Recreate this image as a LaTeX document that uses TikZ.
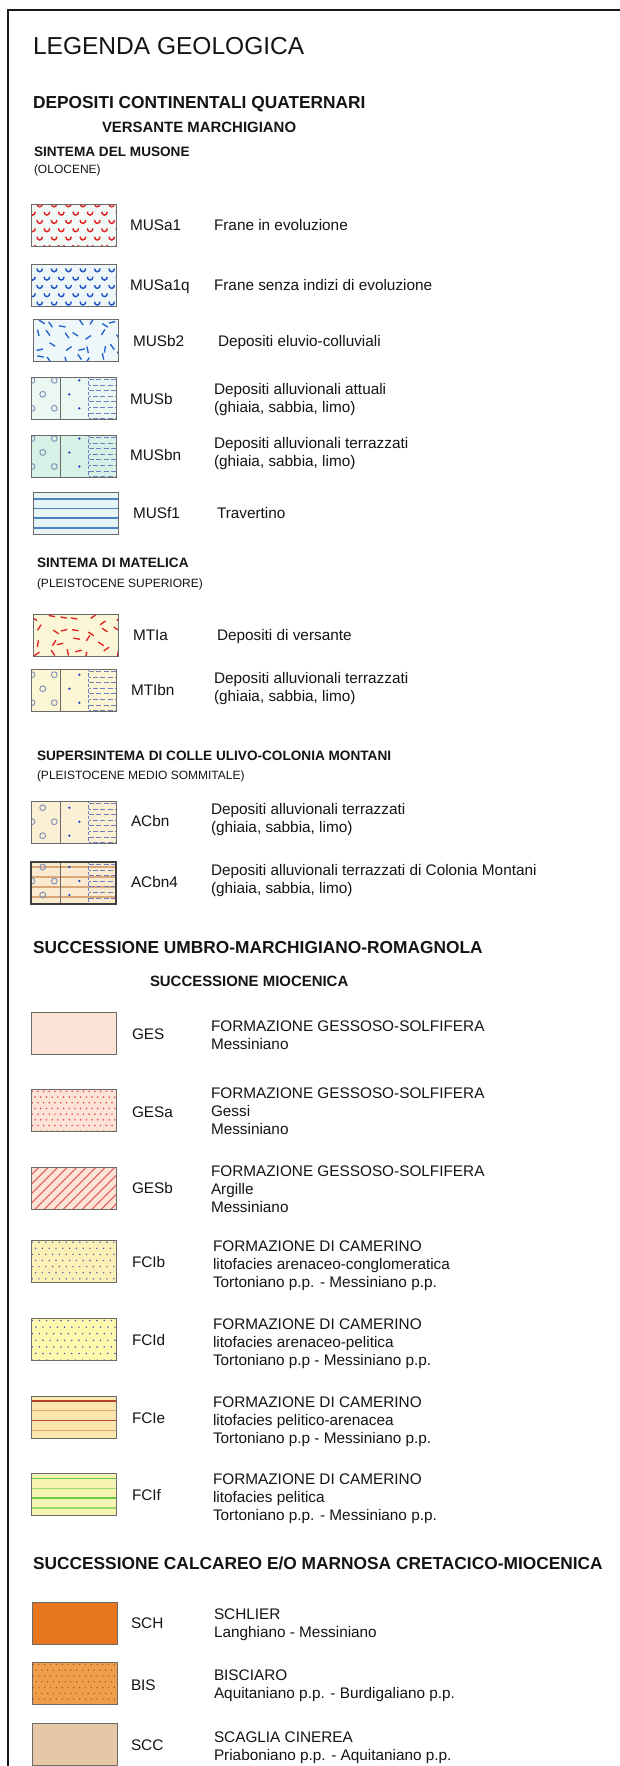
\documentclass[tikz,border=0pt]{standalone}
\usepackage{fontspec}
\setmainfont{Liberation Sans}
\definecolor{fMUSa}{HTML}{F3F9F6}
\definecolor{fMUSaq}{HTML}{EEF6F7}
\definecolor{fMUSbt}{HTML}{EEF7FA}
\definecolor{fMUSb}{HTML}{EBF7F1}
\definecolor{fMUSbn}{HTML}{D7F1E6}
\definecolor{fMUSf}{HTML}{E7F4F6}
\definecolor{fMTIa}{HTML}{FBF6D8}
\definecolor{fMTIbn}{HTML}{FCF6D4}
\definecolor{fACbn}{HTML}{FBF0D4}
\definecolor{fACbnq}{HTML}{F9EAD0}
\definecolor{fGES}{HTML}{FCE3D5}
\definecolor{fFCIb}{HTML}{FBF1B6}
\definecolor{fFCId}{HTML}{FFF9AE}
\definecolor{fFCIe}{HTML}{FBE7AE}
\definecolor{fFCIf}{HTML}{F7F3B2}
\definecolor{fSCH}{HTML}{E8761E}
\definecolor{fBIS}{HTML}{F09E4A}
\definecolor{fSCC}{HTML}{E6C7A6}
\definecolor{cupred}{HTML}{E0201C}
\definecolor{cupblue}{HTML}{1E50C8}
\definecolor{dashblue}{HTML}{2060C8}
\definecolor{dashred}{HTML}{E02020}
\definecolor{circc}{HTML}{7F90B8}
\definecolor{dotc}{HTML}{1A3CC8}
\definecolor{hdc}{HTML}{6F7FBF}
\definecolor{gesdot}{HTML}{E0404A}
\definecolor{gesline}{HTML}{E05A5A}
\definecolor{fcbdot}{HTML}{5A5AA8}
\definecolor{fcddot}{HTML}{4A54B4}
\definecolor{fceA}{HTML}{B8402C}
\definecolor{fceB}{HTML}{E0A868}
\definecolor{fcfA}{HTML}{66CC44}
\definecolor{fcfB}{HTML}{9ADB70}
\definecolor{musfl}{HTML}{4A82C4}
\definecolor{acql}{HTML}{D9A77A}
\definecolor{bisdot}{HTML}{A85A1C}
\definecolor{swbord}{HTML}{6A6A6A}
\definecolor{txtc}{HTML}{141414}

\tikzset{
  swatch/.style={minimum width=63.75pt, minimum height=31.5pt, inner sep=0pt, outer sep=0pt},
  swb/.style={draw=swbord, line width=0.7pt},
  basetxt/.style={anchor=west, inner sep=0pt, outer sep=0pt, align=left, text=txtc},
  dsc/.style={basetxt, font=\fontsize{11.5}{13.5}\selectfont},
  lab/.style={basetxt, font=\fontsize{11.5}{13.5}\selectfont},
  ttl/.style={basetxt, font=\fontsize{18.4}{22}\selectfont},
  hA/.style={basetxt, font=\bfseries\fontsize{13}{15.6}\selectfont},
  hB/.style={basetxt, font=\bfseries\fontsize{11.2}{13.4}\selectfont},
  hC/.style={basetxt, font=\bfseries\fontsize{10.2}{12.2}\selectfont},
  hD/.style={basetxt, font=\fontsize{9}{10.8}\selectfont},
  frame/.style={draw=black!90, line width=1.2pt},
  divl/.style={draw=swbord, line width=0.6pt},
  circl/.style={draw=circc, line width=0.7pt},
  dotb/.style={fill=dotc},
  hdsh/.style={draw=hdc, line width=0.65pt, dash pattern=on 3.8pt off 1.7pt},
  vdsh/.style={draw=hdc, line width=0.65pt, dash pattern=on 2.6pt off 1.4pt},
}

\newcommand\mksw[5]{%
  \node[swatch, fill=#4] (#1) at ({#2+42.5},{#3+21}) {};
  \begin{scope}[shift={(#2,#3)}]
    \clip (0,0) rectangle (85,42);
    #5
  \end{scope}
  \draw[swb] (#1.north west) rectangle (#1.south east);
}
\newcommand\cups[2]{%
  \foreach \rw in {-1,...,5}{\foreach \cl in {0,...,6}{%
    \draw[#1, line width=1.05pt] ({1.5+14.4*\cl+7.2*mod(\rw+1,2)-2.8},{#2+8.3*\rw})
      arc[start angle=180, end angle=0, x radius=2.8, y radius=3.3];
  }}%
}
\newcommand\rdash[2]{%
  \pgfmathsetseed{#2}%
  \foreach \rw in {0,...,6}{\foreach \cl in {0,...,3}{%
    \pgfmathsetmacro\xx{\rw*13+1+rnd*9}%
    \pgfmathsetmacro\yy{\cl*11+2+rnd*7}%
    \pgfmathsetmacro\ang{random(0,7)*22.5+10}%
    \draw[#1, line width=1pt] (\xx,\yy) ++(\ang:3.3) -- ++(\ang+180:6.6);
  }}%
}
\newcommand\dgrid[5]{%
  \foreach \rw in {0,...,9}{\foreach \cl in {0,...,16}{%
    \fill[#1] ({1.2+#2*\cl+#2/2*mod(\rw,2)},{#5+#3*\rw}) circle[radius=#4];
  }}%
}
\newcommand\hlines[2]{%
  \foreach \yy in {#2}{\draw[#1] (-1,\yy) -- (86,\yy);}%
}
\newcommand\alluv[1]{%
  \draw[divl] (29,-1) -- (29,43);
  \foreach \kk in {-1,0,1,2}{%
    \pgfmathsetmacro\ya{#1+28*\kk}%
    \pgfmathsetmacro\yb{#1+14+28*\kk}%
    \draw[circl] (1,\ya) circle[radius=2.9];
    \draw[circl] (23.3,\ya) circle[radius=2.9];
    \draw[circl] (11.7,\yb) circle[radius=2.9];
    \fill[dotb] (48.3,\ya) circle[radius=1.25];
    \fill[dotb] (38.3,\yb) circle[radius=1.25];
  }%
  \foreach \kk in {0,...,7}{%
    \pgfmathsetmacro\yd{2.5+5.6*\kk}%
    \pgfmathsetmacro\ph{mod(\kk,2)*2.5}%
    \draw[hdsh, dash phase=\ph pt] (58,\yd) -- (86,\yd);
  }%
  \draw[vdsh] (57,-1) -- (57,43);
}

\begin{document}
\begin{tikzpicture}[x=0.75pt, y=-0.75pt]
\useasboundingbox (0,0) rectangle (620,1766);
\fill[white] (0,0) rectangle (620,1766);

% frame
\coordinate (fa) at (8,1767);
\coordinate (fb) at (8,10);
\coordinate (fc) at (621,10);
\draw[frame] (fa) -- (fb) -- (fc);

% headings
\node[ttl] (title) at (33,48.5) {\strut LEGENDA GEOLOGICA};
\node[hA] (hdep) at (33,104) {\strut DEPOSITI CONTINENTALI QUATERNARI};
\node[hB] (hvers) at (102,129) {\strut VERSANTE MARCHIGIANO};
\node[hC] (hmus) at (34,153) {\strut SINTEMA DEL MUSONE};
\node[hD] (holo) at (34,170.5) {\strut (OLOCENE)};

% MUSa1
\mksw{sMUSa}{31}{204}{fMUSa}{\cups{cupred}{-0.5}}
\node[lab] (lMUSa) at (130,227) {\strut MUSa1};
\node[dsc] (dMUSa) at (214,227) {\strut Frane in evoluzione};
% MUSa1q
\mksw{sMUSaq}{31}{264}{fMUSaq}{\cups{cupblue}{4.5}}
\node[lab] (lMUSaq) at (130,287) {\strut MUSa1q};
\node[dsc] (dMUSaq) at (214,287) {\strut Frane senza indizi di evoluzione};
% MUSb2
\mksw{sMUSbt}{33}{319}{fMUSbt}{\rdash{dashblue}{7}}
\node[lab] (lMUSbt) at (133,343) {\strut MUSb2};
\node[dsc] (dMUSbt) at (218,343) {\strut Depositi eluvio-colluviali};
% MUSb
\mksw{sMUSb}{31}{377}{fMUSb}{\alluv{3.3}}
\node[lab] (lMUSb) at (130,401) {\strut MUSb};
\node[dsc] (dMUSb) at (214,400) {\strut Depositi alluvionali attuali\\\strut (ghiaia, sabbia, limo)};
% MUSbn
\mksw{sMUSbn}{31}{435}{fMUSbn}{\alluv{3.5}}
\node[lab] (lMUSbn) at (130,457) {\strut MUSbn};
\node[dsc] (dMUSbn) at (214,454) {\strut Depositi alluvionali terrazzati\\\strut (ghiaia, sabbia, limo)};
% MUSf1
\mksw{sMUSf}{33}{492}{fMUSf}{\hlines{musfl, line width=0.8pt}{7,16.7,26,36}}
\node[lab] (lMUSf) at (133,515) {\strut MUSf1};
\node[dsc] (dMUSf) at (217,515) {\strut Travertino};

% Matelica
\node[hC] (hmat) at (37,564) {\strut SINTEMA DI MATELICA};
\node[hD] (hpls) at (37,584.5) {\strut (PLEISTOCENE SUPERIORE)};
% MTIa
\mksw{sMTIa}{33}{614}{fMTIa}{\rdash{dashred}{23}}
\node[lab] (lMTIa) at (133,637) {\strut MTIa};
\node[dsc] (dMTIa) at (217,637) {\strut Depositi di versante};
% MTIbn
\mksw{sMTIbn}{31}{669}{fMTIbn}{\alluv{5.7}}
\node[lab] (lMTIbn) at (131,692) {\strut MTIbn};
\node[dsc] (dMTIbn) at (214,689) {\strut Depositi alluvionali terrazzati\\\strut (ghiaia, sabbia, limo)};

% Colle Ulivo
\node[hC] (hsup) at (37,757) {\strut SUPERSINTEMA DI COLLE ULIVO-COLONIA MONTANI};
\node[hD] (hpmd) at (37,776.5) {\strut (PLEISTOCENE MEDIO SOMMITALE)};
% ACbn
\mksw{sACbn}{31}{801}{fACbn}{\alluv{-7.3}}
\node[lab] (lACbn) at (131,823) {\strut ACbn};
\node[dsc] (dACbn) at (211,819.5) {\strut Depositi alluvionali terrazzati\\\strut (ghiaia, sabbia, limo)};
% ACbn4
\mksw{sACbnq}{31}{862}{fACbnq}{\hlines{acql, line width=0.8pt}{5,15,25,35}\alluv{-9}}
\draw[draw=black!75, line width=1.1pt] (sACbnq.north west) rectangle (sACbnq.south east);
\node[lab] (lACbnq) at (131,884) {\strut ACbn4};
\node[dsc] (dACbnq) at (211,881) {\strut Depositi alluvionali terrazzati di Colonia Montani\\\strut (ghiaia, sabbia, limo)};

% Umbro-marchigiano
\node[hA] (humb) at (33,949) {\strut SUCCESSIONE UMBRO-MARCHIGIANO-ROMAGNOLA};
\node[hB] (hmio) at (150,983) {\strut SUCCESSIONE MIOCENICA};
% GES
\mksw{sGES}{31}{1012}{fGES}{}
\node[lab] (lGES) at (132,1036) {\strut GES};
\node[dsc] (dGES) at (211,1036.5) {\strut FORMAZIONE GESSOSO-SOLFIFERA\\\strut Messiniano};
% GESa
\mksw{sGESa}{31}{1089}{fGES}{\dgrid{gesdot}{5.7}{5.7}{0.85}{2.3}}
\node[lab] (lGESa) at (132,1114) {\strut GESa};
\node[dsc] (dGESa) at (211,1113) {\strut FORMAZIONE GESSOSO-SOLFIFERA\\\strut Gessi\\\strut Messiniano};
% GESb
\mksw{sGESb}{31}{1167}{fGES}{\foreach \kk in {-5,...,9}{\draw[gesline, line width=0.8pt] ({\kk*9.5},46) -- ({\kk*9.5+46},0);}}
\node[lab] (lGESb) at (132,1190) {\strut GESb};
\node[dsc] (dGESb) at (211,1191) {\strut FORMAZIONE GESSOSO-SOLFIFERA\\\strut Argille\\\strut Messiniano};
% FCIb
\mksw{sFCIb}{31}{1240}{fFCIb}{\dgrid{fcbdot}{6.8}{6.1}{0.8}{2.2}}
\node[lab] (lFCIb) at (132,1264) {\strut FCIb};
\node[dsc] (dFCIb) at (213,1266) {\strut FORMAZIONE DI CAMERINO\\\strut litofacies arenaceo-conglomeratica\\\strut Tortoniano p.p. - Messiniano p.p.};
% FCId
\mksw{sFCId}{31}{1318}{fFCId}{\dgrid{fcddot}{7.2}{6.6}{0.85}{2.5}}
\node[lab] (lFCId) at (132,1342) {\strut FCId};
\node[dsc] (dFCId) at (213,1344) {\strut FORMAZIONE DI CAMERINO\\\strut litofacies arenaceo-pelitica\\\strut Tortoniano p.p - Messiniano p.p.};
% FCIe
\mksw{sFCIe}{31}{1396}{fFCIe}{\hlines{fceA, line width=0.8pt}{5,24.3}\hlines{fceB, line width=0.8pt}{14.3,34.3}}
\node[lab] (lFCIe) at (132,1420) {\strut FCIe};
\node[dsc] (dFCIe) at (213,1422) {\strut FORMAZIONE DI CAMERINO\\\strut litofacies pelitico-arenacea\\\strut Tortoniano p.p - Messiniano p.p.};
% FCIf
\mksw{sFCIf}{31}{1473}{fFCIf}{\hlines{fcfA, line width=0.85pt}{5.7,25}\hlines{fcfB, line width=0.85pt}{15.7,35}}
\node[lab] (lFCIf) at (132,1497) {\strut FCIf};
\node[dsc] (dFCIf) at (213,1499) {\strut FORMAZIONE DI CAMERINO\\\strut litofacies pelitica\\\strut Tortoniano p.p. - Messiniano p.p.};

% Calcareo
\node[hA] (hcal) at (33,1565) {\strut SUCCESSIONE CALCAREO E/O MARNOSA CRETACICO-MIOCENICA};
% SCH
\mksw{sSCH}{32}{1602}{fSCH}{}
\node[lab] (lSCH) at (131,1625) {\strut SCH};
\node[dsc] (dSCH) at (214,1625) {\strut SCHLIER\\\strut Langhiano - Messiniano};
% BIS
\mksw{sBIS}{32}{1662}{fBIS}{\dgrid{bisdot}{5.8}{5.8}{0.75}{2.3}}
\node[lab] (lBIS) at (131,1687) {\strut BIS};
\node[dsc] (dBIS) at (214,1686) {\strut BISCIARO\\\strut Aquitaniano p.p. - Burdigaliano p.p.};
% SCC
\mksw{sSCC}{32}{1723}{fSCC}{}
\node[lab] (lSCC) at (131,1747) {\strut SCC};
\node[dsc] (dSCC) at (214,1748) {\strut SCAGLIA CINEREA\\\strut Priaboniano p.p. - Aquitaniano p.p.};
\end{tikzpicture}
\end{document}
